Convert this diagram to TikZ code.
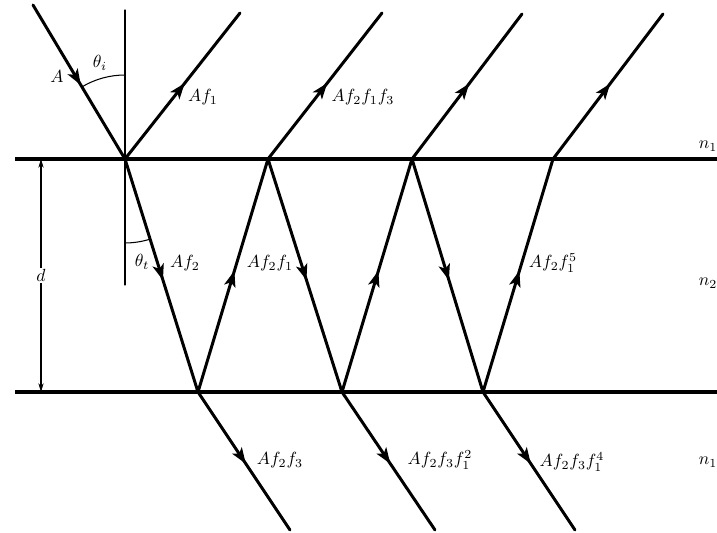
\documentclass[tikz,border=0pt]{standalone}
\usetikzlibrary{arrows.meta,decorations.markings}
\begin{document}
\begin{tikzpicture}[x=0.02cm,y=0.02cm,line join=round,line cap=round,
					>={Stealth[length=9pt,width=6.5pt,inset=2.2pt]},
					ray/.style={line width=1.7pt,postaction={decorate},
						decoration={markings,mark=at position 0.52 with {\arrow{>}}}},
					iface/.style={line width=2.8pt,line cap=butt},
					guide/.style={line width=0.6pt},
					every node/.style={inner sep=1pt}]
					\useasboundingbox (0,0) rectangle (717,533);
					\path
					(33,528) coordinate (S)
					(125,374) coordinate (T1) (268,374) coordinate (T2)
					(412,374) coordinate (T3) (553,374) coordinate (T4)
					(198,141) coordinate (B1) (342,141) coordinate (B2) (483,141) coordinate (B3)
					(240,520) coordinate (R1) (382,520) coordinate (R2)
					(522,519) coordinate (R3) (663,519) coordinate (R4)
					(290,3) coordinate (E1) (435,3) coordinate (E2) (575,3) coordinate (E3)
					(15,374) coordinate (Lt) (717,374) coordinate (Rt)
					(15,141) coordinate (Lb) (717,141) coordinate (Rb)
					(125,523) coordinate (Na) (125,248) coordinate (Nb)
					(41,374) coordinate (dT) (41,141) coordinate (dB);
					\draw[iface] (Lt) -- (Rt);
					\draw[iface] (Lb) -- (Rb);
					\draw[guide] (Na) -- (Nb);
					\draw[guide,{Stealth[length=5pt,width=3pt]}-{Stealth[length=5pt,width=3pt]}] (dT) -- node[fill=white] (dlab) {$d$} (dB);
					\draw[guide] (T1) ++(90:1.68cm) arc (90:121:1.68cm);
					\draw[guide] (T1) ++(-90:1.68cm) arc (-90:-72.6:1.68cm);
					\foreach \a/\b in {S/T1,T1/R1,T1/B1,B1/T2,T2/R2,T2/B2,B2/T3,T3/R3,T3/B3,B3/T4,T4/R4,B1/E1,B2/E2,B3/E3}
					\draw[ray] (\a) -- (\b);
					\foreach \p/\x/\y/\lab in {
						lA/57/456/A,
						lthi/100/470/\theta_i,
						lAfa/203/436/Af_1,
						lAfbac/363/436/Af_2f_1f_3,
						ltht/142/271/\theta_t,
						lAfb/185/270/Af_2,
						lAfba/270/270/Af_2f_1,
						lAfbae/553/270/Af_2f_1^5,
						lAfbc/280/73/Af_2f_3,
						lAfbcb/440/73/Af_2f_3f_1^2,
						lAfbcd/572/71/Af_2f_3f_1^4,
						lnt/708/387/n_1,
						lnm/708/250/n_2,
						lnb/708/71/n_1
					}{
						\node (\p) at (\x,\y) {$\lab$};
					}
				\end{tikzpicture}
\end{document}
